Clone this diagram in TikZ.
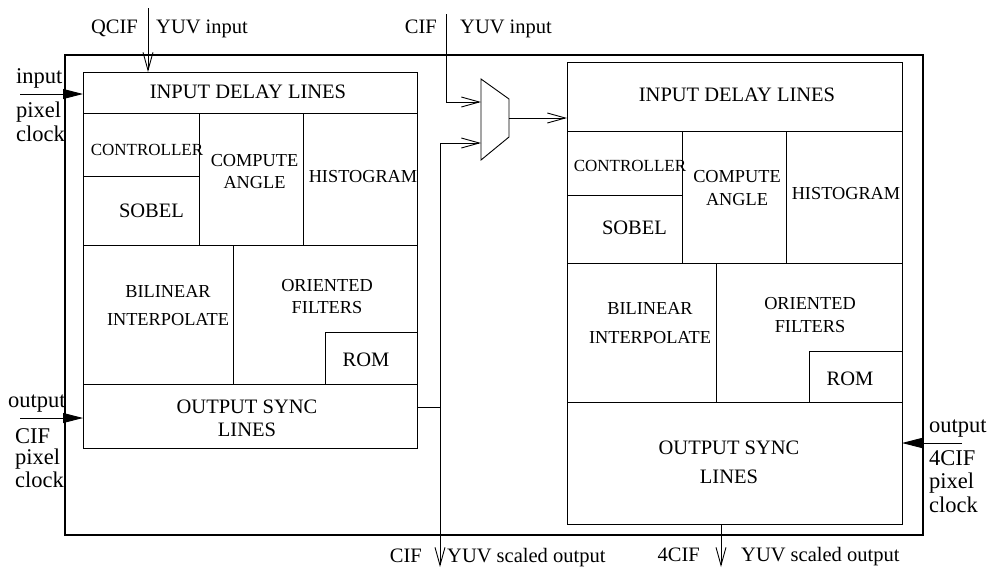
\documentclass[tikz,border=0pt]{standalone}
\usepackage{fontspec}
\setmainfont{Liberation Serif}
\newfontfamily\blockfont{Liberation Serif}
\usetikzlibrary{arrows.meta,fit}

\begin{document}
\begin{tikzpicture}[x=1pt,y=-1pt,
  blk/.style={draw, rectangle, inner sep=0pt, outer sep=0pt, line width=0.9pt},
  frame/.style={draw, rectangle, inner sep=0pt, outer sep=0pt, line width=1.3pt},
  big/.style={font=\blockfont\fontsize{20.5}{#1}\selectfont, inner sep=0pt, align=center},
  big/.default=23pt,
  mid/.style={font=\blockfont\fontsize{18.3}{#1}\selectfont, inner sep=0pt, align=center},
  mid/.default=22pt,
  small/.style={font=\blockfont\fontsize{17}{20}\selectfont, inner sep=0pt},
  side/.style={font=\fontsize{22.5}{24}\selectfont, inner sep=0pt, anchor=base west},
  io/.style={font=\fontsize{20.5}{23}\selectfont, inner sep=0pt},
  wire/.style={line width=0.9pt},
  oarr/.style={wire, -{Straight Barb[length=18pt,width=10pt]}},
  farr/.style={wire, -{Triangle[length=20pt,width=10pt]}}]

\useasboundingbox (0,0) rectangle (988,568);

% enclosing chip outline
\node[frame, fit={(65,55) (923,535)}] (chip) {};

% ---------- QCIF -> CIF scaler ----------
\node[blk, fit={(83,72) (417,113)}]  (Lidl) {};
\node[blk, fit={(83,113) (199,176)}] (Lctl) {};
\node[blk, fit={(83,176) (199,245)}] (Lsob) {};
\node[blk, fit={(199,113) (303,245)}] (Lang) {};
\node[blk, fit={(303,113) (417,245)}] (Lhis) {};
\node[blk, fit={(83,245) (233,384)}] (Lbil) {};
\node[blk, fit={(233,245) (417,384)}] (Lori) {};
\node[blk, fit={(325,332) (417,384)}] (Lrom) {};
\node[blk, fit={(83,384) (417,448)}] (Losl) {};

\node[big]   (LidlT) at (248,92)    {INPUT DELAY LINES};
\node[small] (LctlT) at (147,150)   {CONTROLLER};
\node[big]   (LsobT) at (151.5,211) {SOBEL};
\node[mid=21.5pt] (LangT) at (254.5,171.5) {COMPUTE\\ANGLE};
\node[mid]   (LhisT) at (363,177)   {HISTOGRAM};
\node[mid=28pt] (LbilT) at (168,306) {BILINEAR\\INTERPOLATE};
\node[mid=22pt] (LoriT) at (327,297) {ORIENTED\\FILTERS};
\node[big]   (LromT) at (366,360)   {ROM};
\node[big=23pt] (LoslT) at (247,418.5) {OUTPUT SYNC\\LINES};

% ---------- CIF -> 4CIF scaler ----------
\node[blk, fit={(567,62) (902,131)}]  (Ridl) {};
\node[blk, fit={(567,131) (682,195)}] (Rctl) {};
\node[blk, fit={(567,195) (682,263)}] (Rsob) {};
\node[blk, fit={(682,131) (786,263)}] (Rang) {};
\node[blk, fit={(786,131) (902,263)}] (Rhis) {};
\node[blk, fit={(567,263) (716,402)}] (Rbil) {};
\node[blk, fit={(716,263) (902,402)}] (Rori) {};
\node[blk, fit={(809,351) (902,402)}] (Rrom) {};
\node[blk, fit={(567,402) (902,524)}] (Rosl) {};

\node[big]   (RidlT) at (737,95)    {INPUT DELAY LINES};
\node[small] (RctlT) at (630,166)   {CONTROLLER};
\node[big]   (RsobT) at (634.5,228) {SOBEL};
\node[mid=23pt] (RangT) at (737,188.5) {COMPUTE\\ANGLE};
\node[mid]   (RhisT) at (846,194)   {HISTOGRAM};
\node[mid=29pt] (RbilT) at (650,323.5) {BILINEAR\\INTERPOLATE};
\node[mid=23pt] (RoriT) at (810,315.5) {ORIENTED\\FILTERS};
\node[big]   (RromT) at (850,379)   {ROM};
\node[big=29pt] (RoslT) at (729,462.5) {OUTPUT SYNC\\LINES};

% ---------- input multiplexer ----------
\draw[wire] (481,79) -- (509,99) -- (509,137) -- (481,160) -- cycle;
\coordinate (muxA) at (481,102);
\coordinate (muxB) at (481,143);
\coordinate (muxY) at (509,118);

% ---------- data paths ----------
\coordinate (qcifin) at (148,8);
\draw[oarr] (qcifin) -- (qcifin |- Lidl.north);

\coordinate (cifin) at (446,14);
\draw[oarr] (cifin) |- (muxA);

\draw[oarr] (muxY) -- (muxY -| Ridl.west);

\coordinate (tap) at (440,407);
\coordinate (cifout) at (440,567);
\draw[oarr] (Losl.east |- tap) -- (tap) |- (muxB);
\draw[oarr] (tap) -- (cifout);

\coordinate (qout) at (721,567);
\draw[oarr] (qout |- Rosl.south) -- (qout);

% ---------- pixel clocks ----------
\coordinate (clkA) at (20,94);
\draw[farr] (clkA) -- (clkA -| Lidl.west);
\coordinate (clkB) at (20,418);
\draw[farr] (clkB) -- (clkB -| Losl.west);
\coordinate (clkC) at (962,443);
\draw[farr] (clkC) -- (clkC -| Rosl.east);

% ---------- port labels ----------
\node[io, anchor=base east] (qcifL) at (138,33) {QCIF};
\node[io, anchor=base west] (qcifR) at (156,33) {YUV input};
\node[io, anchor=base east] (cifL)  at (437,33) {CIF};
\node[io, anchor=base west] (cifR)  at (460,33) {YUV input};

\node[io, anchor=base east] (coutL) at (422,562) {CIF};
\node[io, anchor=base west] (coutR) at (447,562) {YUV scaled output};
\node[io, anchor=base east] (qoutL) at (700,561) {4CIF};
\node[io, anchor=base west] (qoutR) at (741,561) {YUV scaled output};

\node[side] (ckA1) at (16,83)  {input};
\node[side] (ckA2) at (16,117) {pixel};
\node[side] (ckA3) at (16,141) {clock};

\node[side] (ckB1) at (8,407)  {output};
\node[side] (ckB2) at (15,443) {CIF};
\node[side] (ckB3) at (15,464) {pixel};
\node[side] (ckB4) at (15,487) {clock};

\node[side] (ckC1) at (929,432) {output};
\node[side] (ckC2) at (929,465) {4CIF};
\node[side] (ckC3) at (929,488) {pixel};
\node[side] (ckC4) at (929,512) {clock};
\end{tikzpicture}
\end{document}
